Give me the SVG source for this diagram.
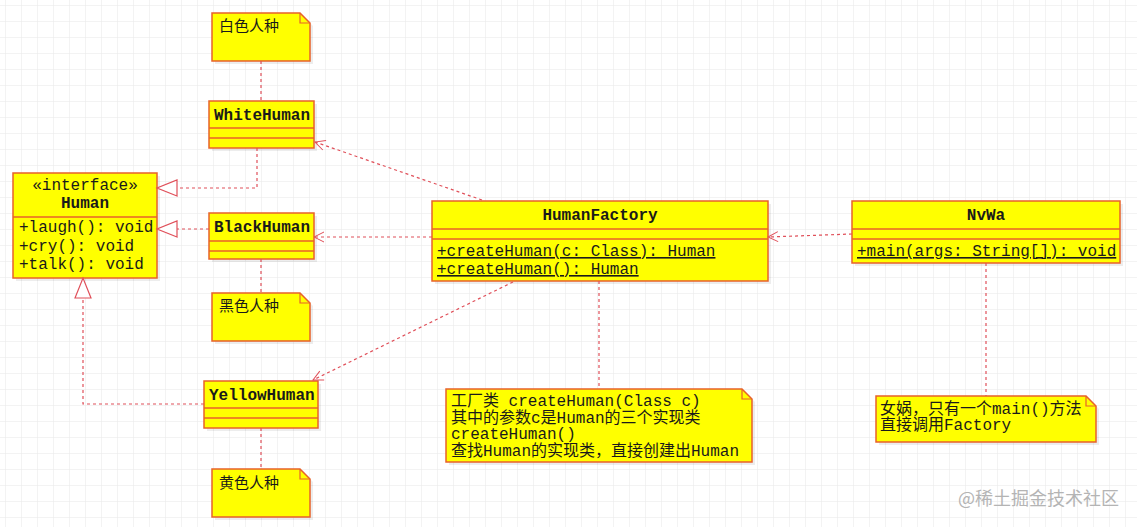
<svg xmlns="http://www.w3.org/2000/svg" width="1137" height="527" viewBox="0 0 1137 527">
<defs>
<pattern id="grid" x="5" y="5" width="16" height="16" patternUnits="userSpaceOnUse">
<path d="M16 0H0V16" fill="none" stroke="#e8e8e8" stroke-width="1"/>
</pattern>
<marker id="open" markerUnits="userSpaceOnUse" markerWidth="14" markerHeight="14" viewBox="0 0 14 14" refX="12" refY="7" orient="auto">
<path d="M2 2L12 7L2 12" fill="none" stroke="#e0505a" stroke-width="1"/>
</marker>
<marker id="tri" markerUnits="userSpaceOnUse" markerWidth="24" markerHeight="20" viewBox="0 0 24 20" refX="21" refY="10" orient="auto">
<path d="M1 2L21 10L1 18Z" fill="#ffffff" stroke="#e0505a" stroke-width="1.2"/>
</marker>
</defs>
<style>
.box{fill:#ffff00;stroke:#e8622a;stroke-width:1.5}
.shadow{fill:#000;opacity:0.07}
.div{stroke:#e8622a;stroke-width:1.5}
.t{font-family:"Liberation Mono","Noto Sans CJK SC",monospace;font-size:16px;fill:#1a1a1a}
.b{font-weight:bold}
.c{text-anchor:middle}
.u{text-decoration:underline}
.cn{font-family:"Liberation Mono","Noto Sans CJK SC",monospace;font-size:15px;fill:#1a1a1a}
.con{fill:none;stroke:#e0505a;stroke-width:1.2;stroke-dasharray:3 3}
.fold{fill:none;stroke:#e8622a;stroke-width:1.2}
</style>
<rect width="1137" height="527" fill="#ffffff"/>
<rect width="1137" height="527" fill="url(#grid)"/>

<g id="Human">
<rect class="shadow" x="16" y="176" width="144" height="105"/>
<rect class="box" x="13" y="173" width="144" height="105"/>
<line class="div" x1="13" y1="217" x2="157" y2="217"/>
<text class="t c" x="85" y="190">«interface»</text>
<text class="t c b" x="85" y="208">Human</text>
<text class="t" x="19" y="232">+laugh(): void</text>
<text class="t" x="19" y="250.5">+cry(): void</text>
<text class="t" x="19" y="269">+talk(): void</text>
</g>

<g id="WhiteHuman">
<rect class="shadow" x="212" y="104" width="105" height="47"/>
<rect class="box" x="209" y="101" width="105" height="47"/>
<line class="div" x1="209" y1="128" x2="314" y2="128"/>
<line class="div" x1="209" y1="138" x2="314" y2="138"/>
<text class="t b" x="214" y="120">WhiteHuman</text>
</g>

<g id="BlackHuman">
<rect class="shadow" x="212" y="216" width="105" height="46"/>
<rect class="box" x="209" y="213" width="105" height="46"/>
<line class="div" x1="209" y1="241" x2="314" y2="241"/>
<line class="div" x1="209" y1="251" x2="314" y2="251"/>
<text class="t b" x="214" y="232">BlackHuman</text>
</g>

<g id="YellowHuman">
<rect class="shadow" x="207" y="384" width="114" height="47"/>
<rect class="box" x="204" y="381" width="114" height="47"/>
<line class="div" x1="204" y1="408" x2="318" y2="408"/>
<line class="div" x1="204" y1="418" x2="318" y2="418"/>
<text class="t b" x="209" y="400">YellowHuman</text>
</g>

<g id="HumanFactory">
<rect class="shadow" x="435" y="204" width="336" height="80"/>
<rect class="box" x="432" y="201" width="336" height="80"/>
<line class="div" x1="432" y1="229" x2="768" y2="229"/>
<line class="div" x1="432" y1="239" x2="768" y2="239"/>
<text class="t c b" x="600" y="220">HumanFactory</text>
<text class="t u" x="437" y="256">+createHuman(c: Class): Human</text>
<text class="t u" x="437" y="274">+createHuman(): Human</text>
</g>

<g id="NvWa">
<rect class="shadow" x="855" y="204" width="268" height="62"/>
<rect class="box" x="852" y="201" width="268" height="62"/>
<line class="div" x1="852" y1="229" x2="1120" y2="229"/>
<line class="div" x1="852" y1="239" x2="1120" y2="239"/>
<text class="t c b" x="986" y="220">NvWa</text>
<text class="t u" x="857" y="256">+main(args: String[]): void</text>
</g>

<g id="noteWhite">
<path class="shadow" d="M215 16H303L313 26V64H215Z"/>
<path class="box" d="M212 13H300L310 23V61H212Z"/>
<path class="fold" d="M300 13V23H310"/>
<text class="cn" x="219" y="31">白色人种</text>
</g>

<g id="noteBlack">
<path class="shadow" d="M215 296H303L313 306V344H215Z"/>
<path class="box" d="M212 293H300L310 303V341H212Z"/>
<path class="fold" d="M300 293V303H310"/>
<text class="cn" x="219" y="311">黑色人种</text>
</g>

<g id="noteYellow">
<path class="shadow" d="M215 472H303L313 482V520H215Z"/>
<path class="box" d="M212 469H300L310 479V517H212Z"/>
<path class="fold" d="M300 469V479H310"/>
<text class="cn" x="219" y="488">黄色人种</text>
</g>

<g id="noteFactory">
<path class="shadow" d="M449 392H745L755 402V465H449Z"/>
<path class="box" d="M446 389H742L752 399V462H446Z"/>
<path class="fold" d="M742 389V399H752"/>
<text class="t" x="451" y="406">工厂类 createHuman(Class c)</text>
<text class="t" x="451" y="422.5">其中的参数c是Human的三个实现类</text>
<text class="t" x="451" y="439">createHuman()</text>
<text class="t" x="451" y="455.5">查找Human的实现类，直接创建出Human</text>
</g>

<g id="noteNvWa">
<path class="shadow" d="M879 399H1089L1099 409V445H879Z"/>
<path class="box" d="M876 396H1086L1096 406V442H876Z"/>
<path class="fold" d="M1086 396V406H1096"/>
<text class="t" x="880" y="414">女娲，只有一个main()方法</text>
<text class="t" x="880" y="430">直接调用Factory</text>
</g>

<g id="connectors">
<path class="con" d="M261 61V101"/>
<path class="con" d="M261 259V293"/>
<path class="con" d="M261 428V469"/>
<path class="con" d="M599 281V389"/>
<path class="con" d="M986 263V396"/>
<path class="con" d="M257 148V188H157" marker-end="url(#tri)"/>
<path class="con" d="M209 229H157" marker-end="url(#tri)"/>
<path class="con" d="M204 404H83V278" marker-end="url(#tri)"/>
<path class="con" d="M482 200L315 142" marker-end="url(#open)"/>
<path class="con" d="M432 237H314" marker-end="url(#open)"/>
<path class="con" d="M513 282L313 380" marker-end="url(#open)"/>
<path class="con" d="M852 234L768 237" marker-end="url(#open)"/>
</g>

<text x="958" y="505" font-family="'Noto Sans CJK SC','Noto Sans',sans-serif" font-size="18" fill="#b4b4b4">@稀土掘金技术社区</text>
</svg>
